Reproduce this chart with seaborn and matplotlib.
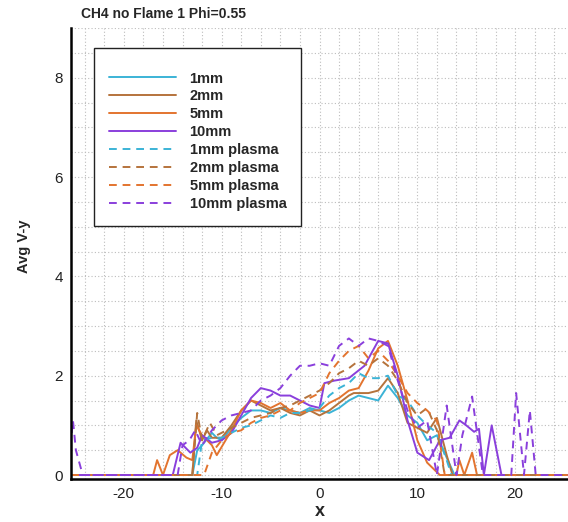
import numpy as np
import pandas as pd
import matplotlib
matplotlib.use("Agg")
import matplotlib.pyplot as plt
from matplotlib.lines import Line2D
from matplotlib.ticker import MultipleLocator
import seaborn as sns

# ---------------- data ----------------
x_1mm = [-25.4, -13, -12.5, -12, -11, -10.5, -10, -9, -8, -7, -6, -5, -4, -3, -2, -1, 0, 1, 2, 3, 4, 5, 6, 7, 8, 9, 10, 11, 12, 13, 13.8, 25.4]
y_1mm = [0, 0, 0.5, 0.6, 0.85, 0.75, 0.7, 0.95, 1.15, 1.3, 1.3, 1.25, 1.35, 1.3, 1.25, 1.35, 1.3, 1.25, 1.35, 1.5, 1.6, 1.55, 1.5, 1.8, 1.55, 1.2, 1.05, 0.7, 0.8, 0.35, 0, 0]

x_2mm = [-25.4, -13, -12.6, -12, -11.5, -11, -10, -9, -8, -7, -6, -5, -4, -3, -2, -1, 0, 1, 2, 3, 3.5, 5, 6, 7, 8, 9, 10, 11, 12, 13, 13.6, 25.4]
y_2mm = [0, 0, 1.1, 0.7, 0.9, 0.75, 0.75, 1.0, 1.3, 1.5, 1.4, 1.3, 1.35, 1.25, 1.2, 1.3, 1.2, 1.3, 1.45, 1.6, 1.65, 1.65, 1.7, 1.95, 1.65, 1.05, 0.95, 0.85, 1.15, 0.4, 0, 0]

x_5mm = [-25.4, -17, -16.6, -16, -15.3, -14.5, -13.6, -13, -12.6, -12, -11, -10.5, -9, -8, -7, -6, -5, -4, -3, -2, -1, 0, 1, 2, 3, 4, 5, 6, 7, 8, 9, 10, 11, 12.3, 14, 14.3, 14.8, 15.6, 16.1, 25.4]
y_5mm = [0, 0, 0.3, 0, 0.4, 0.5, 0.35, 0.3, 1.0, 0.8, 0.6, 0.4, 0.9, 1.3, 1.5, 1.45, 1.35, 1.45, 1.3, 1.25, 1.3, 1.3, 1.45, 1.55, 1.7, 1.75, 2.1, 2.55, 2.7, 2.2, 1.5, 0.7, 0.25, 0, 0, 0.3, 0, 0.45, 0, 0]

x_10mm = [-25.4, -15, -14.2, -13.2, -12.5, -12, -11, -10, -9, -8, -7, -6, -5, -4, -3, -2, -1, 0, 0.5, 1.5, 3, 4.6, 6, 7, 8, 9, 10, 11.2, 12.3, 13.3, 14.3, 15, 15.8, 16.3, 16.8, 17.6, 18.6, 25.4]
y_10mm = [0, 0, 0.65, 0.45, 0.55, 0.8, 0.65, 0.7, 0.85, 1.2, 1.55, 1.75, 1.7, 1.6, 1.6, 1.5, 1.4, 1.35, 1.85, 1.9, 1.95, 2.2, 2.7, 2.65, 2.0, 1.1, 0.45, 0.3, 0.7, 0.75, 1.1, 1.0, 0.87, 0.93, 0, 1.0, 0, 0]

x_1mm_plasma = [-25.4, -12.5, -12, -11, -10, -9, -8, -7, -6, -5, -4, -3, -2, -1, 0, 1, 2, 3, 4, 5, 6, 7, 8, 9, 10, 11, 12, 13, 13.5, 25.4]
y_1mm_plasma = [0, 0, 0.7, 0.75, 0.75, 0.85, 0.95, 1.0, 1.1, 1.2, 1.15, 1.25, 1.25, 1.3, 1.35, 1.6, 1.75, 1.85, 2.05, 1.95, 1.95, 2.0, 1.6, 1.5, 1.2, 1.0, 0.85, 0.3, 0, 0]

x_2mm_plasma = [-25.4, -13, -12.5, -12, -11.2, -10.5, -10, -9, -8, -7, -6, -5, -4, -3, -2, -1, 0, 1, 2, 3, 4, 5, 6, 7, 8, 9, 10, 11, 12, 12.8, 25.4]
y_2mm_plasma = [0, 0, 1.25, 0.7, 1.05, 0.8, 0.85, 0.95, 1.05, 1.15, 1.2, 1.25, 1.35, 1.4, 1.5, 1.6, 1.7, 1.85, 2.05, 2.15, 2.3, 2.2, 2.35, 2.2, 1.9, 1.45, 1.2, 1.35, 0.9, 0, 0]

x_5mm_plasma = [-25.4, -11.8, -11, -10, -9, -8, -7, -6, -5, -4, -3, -2, -1, 0, 1, 2, 3, 4, 5, 6, 7, 8, 9, 10, 11, 12, 12.8, 25.4]
y_5mm_plasma = [0, 0, 0.45, 0.7, 0.85, 0.9, 1.05, 1.15, 1.2, 1.3, 1.3, 1.45, 1.55, 1.65, 2.05, 2.3, 2.5, 2.6, 2.35, 2.5, 2.3, 2.0, 1.65, 1.45, 1.3, 1.1, 0, 0]

x_10mm_plasma = [-25.6, -25.2, -24.9, -24.2, -14.5, -14, -13.3, -12.7, -12, -11, -10, -9, -8, -7, -6, -5, -4, -3, -2, -1, 0, 1, 2, 3, 4, 5, 6, 7, 8, 9, 10, 11, 12, 13, 14, 14.6, 15.6, 16.7, 19.6, 20.1, 20.9, 21.5, 22.1, 25.4]
y_10mm_plasma = [0.3, 1.1, 0.5, 0, 0, 0.6, 0.7, 0.9, 0.6, 0.9, 1.1, 1.2, 1.25, 1.3, 1.5, 1.6, 1.75, 2.0, 2.2, 2.2, 2.25, 2.2, 2.6, 2.75, 2.6, 2.75, 2.7, 2.6, 1.9, 1.3, 0.95, 1.1, 0, 1.4, 0, 0.8, 1.58, 0, 0, 1.65, 0, 1.3, 0, 0]

series_names = ["1mm", "2mm", "5mm", "10mm", "1mm plasma", "2mm plasma", "5mm plasma", "10mm plasma"]
series_x = [x_1mm, x_2mm, x_5mm, x_10mm, x_1mm_plasma, x_2mm_plasma, x_5mm_plasma, x_10mm_plasma]
series_y = [y_1mm, y_2mm, y_5mm, y_10mm, y_1mm_plasma, y_2mm_plasma, y_5mm_plasma, y_10mm_plasma]

title_text = "CH4 no Flame 1 Phi=0.55"
x_label = "x"
y_label = "Avg V-y"

# ---------------- style ----------------
colors = {"1mm": "#3bb3d6", "2mm": "#b5733c", "5mm": "#e3742f", "10mm": "#8a3fdc"}
palette = {}
dashes = {}
for n in series_names:
    base = n.split()[0]
    palette[n] = colors[base]
    dashes[n] = (4, 3) if "plasma" in n else ""

frames = []
for n, xs, ys in zip(series_names, series_x, series_y):
    frames.append(pd.DataFrame({"x": xs, "y": ys, "series": n}))
df = pd.concat(frames, ignore_index=True)

sns.set_style("white")
plt.rcParams["font.family"] = ["Liberation Sans", "DejaVu Sans"]
plt.rcParams["axes.unicode_minus"] = False

fig = plt.figure(figsize=(5.68, 5.22), dpi=100)
ax = fig.add_axes([71 / 568, 1 - 479 / 522, 497 / 568, 451 / 522])

sns.lineplot(data=df, x="x", y="y", hue="series", style="series",
             palette=palette, dashes=dashes, estimator=None, sort=False,
             units="series", linewidth=1.4, legend=False, ax=ax)

ax.set_xlim(-25.4, 25.4)
ax.set_ylim(-0.08, 9.0)

ax.xaxis.set_major_locator(MultipleLocator(10))
ax.xaxis.set_minor_locator(MultipleLocator(2))
ax.yaxis.set_major_locator(MultipleLocator(2))
ax.yaxis.set_minor_locator(MultipleLocator(0.5))

ax.grid(True, which="both", color="#bdbdbd", linestyle=(0, (1, 2)), linewidth=0.8)
ax.set_axisbelow(True)

for s in ["top", "right"]:
    ax.spines[s].set_visible(False)
for s in ["left", "bottom"]:
    ax.spines[s].set_linewidth(1.8)
    ax.spines[s].set_color("black")

ax.tick_params(which="major", direction="in", length=7, width=1.8, labelsize=11, pad=6, colors="black")
ax.tick_params(which="minor", direction="in", length=3.5, width=1.2, colors="black")
ax.tick_params(axis="both", labelcolor="#222222")

ax.set_xlabel(x_label, fontsize=13, fontweight="bold", labelpad=1)
ax.set_ylabel(y_label, fontsize=10.5, fontweight="bold")
ax.yaxis.set_label_coords(-0.081, 0.517)

fig.text(81 / 568, 1 - 14 / 522, title_text, fontsize=10, fontweight="bold", va="center", ha="left")

handles = [Line2D([0], [0], color=palette[n], linewidth=1.4,
                  linestyle=(0, (4, 3)) if "plasma" in n else "-") for n in series_names]
leg = ax.legend(handles, series_names, loc="upper left",
                bbox_to_anchor=(23 / 497, 1 - 20 / 451), borderaxespad=0,
                frameon=True, fancybox=False, shadow=False,
                prop={"weight": "bold", "size": 10.5},
                handlelength=4.65, handletextpad=0.9, labelspacing=0.27,
                borderpad=1.0, title=" ", title_fontsize=3.5)
leg.get_frame().set_edgecolor("#222222")
leg.get_frame().set_linewidth(1.0)
leg.get_frame().set_alpha(1)

fig.savefig("out.png", dpi=100)
